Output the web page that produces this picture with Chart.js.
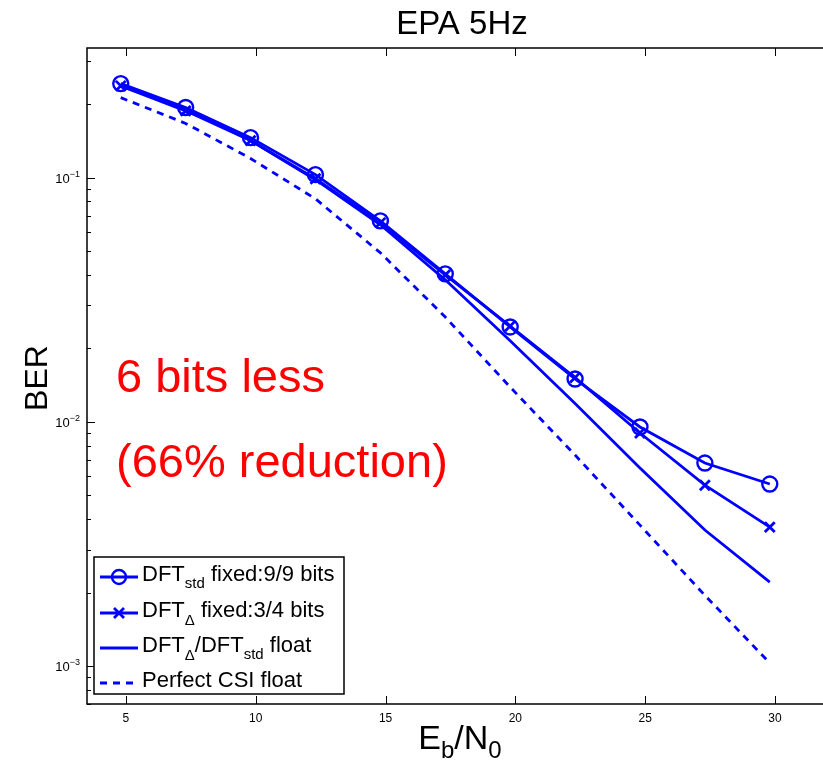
<!DOCTYPE html>
<html>
<head>
<meta charset="utf-8">
<script src="https://cdn.jsdelivr.net/npm/chart.js@4.4.0/dist/chart.umd.min.js"></script>
<style>
  html, body { margin: 0; padding: 0; background: #fff; overflow: hidden; }
  canvas { display: block; }
</style>
</head>
<body>
<canvas id="berChart" width="823" height="761"></canvas>
<script>
// Eb/N0 points (dB)
const ebN0 = [4.8, 7.3, 9.8, 12.3, 14.8, 17.3, 19.8, 22.3, 24.8, 27.3, 29.8];

// BER curves
const berStdFixed   = [0.243, 0.194, 0.146, 0.103, 0.0666, 0.0404, 0.0245, 0.0150, 0.00954, 0.00679, 0.00557];
const berDeltaFixed = [0.238, 0.188, 0.142, 0.0991, 0.0654, 0.0400, 0.0247, 0.0152, 0.00901, 0.00551, 0.00371];
const berFloat      = [0.238, 0.191, 0.142, 0.0982, 0.0642, 0.0382, 0.0215, 0.0119, 0.00648, 0.00361, 0.00221];
const berPerfectCSI = [0.213, 0.167, 0.120, 0.0820, 0.0493, 0.0269, 0.0139, 0.00732, 0.00378, 0.00195, 0.00103];

// axis ticks
const xTicks = [5, 10, 15, 20, 25, 30];
const yDecades = [1e-3, 1e-2, 1e-1];
const yExponents = ['\u22123', '\u22122', '\u22121'];

const BLUE = '#0000ff';
const FONT = '"Liberation Sans", Arial, Helvetica, sans-serif';

function pts(ys) {
    return ys.map((v, i) => ({ x: ebN0[i], y: v }));
}

// draw a run of text pieces: [text, size, dy]
function drawRuns(ctx, runs, x, y) {
    let cx = x;
    runs.forEach(r => {
        ctx.font = r[1] + 'px ' + FONT;
        ctx.fillText(r[0], cx, y + (r[2] || 0));
        cx += ctx.measureText(r[0]).width;
    });
    return cx;
}
function runsWidth(ctx, runs) {
    let w = 0;
    runs.forEach(r => {
        ctx.font = r[1] + 'px ' + FONT;
        w += ctx.measureText(r[0]).width;
    });
    return w;
}

const matlabFrame = {
    id: 'matlabFrame',
    afterDraw(chart) {
        const { ctx, chartArea: a, scales: { x, y } } = chart;
        ctx.save();

        // axes box (right side falls just outside the picture)
        ctx.strokeStyle = '#000';
        ctx.lineWidth = 1.5;
        ctx.beginPath();
        ctx.moveTo(a.right + 5, a.top); ctx.lineTo(a.left, a.top);
        ctx.lineTo(a.left, a.bottom); ctx.lineTo(a.right + 5, a.bottom);
        ctx.stroke();

        // inward ticks
        ctx.lineWidth = 1;
        ctx.beginPath();
        xTicks.forEach(v => {
            const px = Math.round(x.getPixelForValue(v)) + 0.5;
            ctx.moveTo(px, a.bottom); ctx.lineTo(px, a.bottom - 8);
            ctx.moveTo(px, a.top); ctx.lineTo(px, a.top + 8);
        });
        [1e-4, 1e-3, 1e-2, 1e-1].forEach(d => {
            for (let m = 1; m <= 9; m++) {
                const v = m * d;
                if (v < y.min || v > y.max) continue;
                const py = Math.round(y.getPixelForValue(v)) + 0.5;
                const len = m === 1 ? 8 : 4;
                ctx.moveTo(a.left, py); ctx.lineTo(a.left + len, py);
            }
        });
        ctx.stroke();

        // x tick labels
        ctx.fillStyle = '#000';
        ctx.textAlign = 'center';
        ctx.textBaseline = 'alphabetic';
        ctx.font = '12px ' + FONT;
        xTicks.forEach(v => {
            ctx.fillText(String(v), x.getPixelForValue(v), a.bottom + 18);
        });

        // y tick labels 10^n
        ctx.textAlign = 'left';
        yDecades.forEach((d, i) => {
            const py = y.getPixelForValue(d);
            const runs = [['10', 13, 0], [yExponents[i], 9, -6]];
            const w = runsWidth(ctx, runs);
            drawRuns(ctx, runs, a.left - 7 - w, py + 5);
        });

        // title
        ctx.textAlign = 'center';
        ctx.font = '33px ' + FONT;
        ctx.fillText('EPA 5Hz', 462, 34);

        // x label E_b/N_0
        ctx.textAlign = 'left';
        const xl = [['E', 34, 0], ['b', 24, 9], ['/N', 34, 0], ['0', 24, 9]];
        drawRuns(ctx, xl, 460 - runsWidth(ctx, xl) / 2, 749);

        // y label
        ctx.save();
        ctx.translate(47, 378);
        ctx.rotate(-Math.PI / 2);
        ctx.textAlign = 'center';
        ctx.font = '32px ' + FONT;
        ctx.fillText('BER', 0, 0);
        ctx.restore();

        // red annotation
        ctx.fillStyle = '#ff0000';
        ctx.textAlign = 'left';
        ctx.font = '47px ' + FONT;
        ctx.fillText('6 bits less', 116, 392);
        ctx.fillText('(66% reduction)', 116, 477);

        // legend
        const lx = 94, ly = 557, lw = 250, lh = 137;
        ctx.fillStyle = '#fff';
        ctx.fillRect(lx, ly, lw, lh);
        ctx.strokeStyle = '#000';
        ctx.lineWidth = 1.5;
        ctx.strokeRect(lx, ly, lw, lh);

        const rows = [
            { y: 577, marker: 'circle', dash: [], text: [['DFT', 22, 0], ['std', 15, 7], [' fixed:9/9 bits', 22, 0]] },
            { y: 613, marker: 'cross', dash: [], text: [['DFT', 22, 0], ['\u0394', 15, 8], [' fixed:3/4 bits', 22, 0]] },
            { y: 648, marker: null, dash: [], text: [['DFT', 22, 0], ['\u0394', 15, 8], ['/DFT', 22, 0], ['std', 15, 7], [' float', 22, 0]] },
            { y: 683, marker: null, dash: [7, 6], text: [['Perfect CSI float', 22, 0]] }
        ];
        rows.forEach(r => {
            ctx.strokeStyle = BLUE;
            ctx.lineWidth = 2.8;
            ctx.setLineDash(r.dash);
            ctx.beginPath();
            ctx.moveTo(100, r.y); ctx.lineTo(138, r.y);
            ctx.stroke();
            ctx.setLineDash([]);
            if (r.marker === 'circle') {
                ctx.lineWidth = 2.4;
                ctx.beginPath();
                ctx.arc(119, r.y, 7, 0, Math.PI * 2);
                ctx.stroke();
            } else if (r.marker === 'cross') {
                ctx.lineWidth = 2.8;
                ctx.beginPath();
                ctx.moveTo(114, r.y - 5); ctx.lineTo(124, r.y + 5);
                ctx.moveTo(124, r.y - 5); ctx.lineTo(114, r.y + 5);
                ctx.stroke();
            }
            ctx.fillStyle = '#000';
            drawRuns(ctx, r.text, 142, r.y + 4);
        });

        ctx.restore();
    }
};

const ctx = document.getElementById('berChart').getContext('2d');
const berChart = new Chart(ctx, {
    type: 'line',
    data: {
        datasets: [{
            label: 'DFTstd fixed:9/9 bits',
            data: pts(berStdFixed),
            borderColor: BLUE,
            borderWidth: 2.8,
            pointStyle: 'circle',
            pointRadius: 7.5,
            pointBorderWidth: 2.4,
            pointBackgroundColor: 'rgba(0,0,0,0)',
            pointBorderColor: BLUE
        }, {
            label: 'DFTΔ fixed:3/4 bits',
            data: pts(berDeltaFixed),
            borderColor: BLUE,
            borderWidth: 2.8,
            pointStyle: 'crossRot',
            pointRadius: 7,
            pointBorderWidth: 2.8,
            pointBorderColor: BLUE
        }, {
            label: 'DFTΔ/DFTstd float',
            data: pts(berFloat),
            borderColor: BLUE,
            borderWidth: 2.8,
            pointRadius: 0
        }, {
            label: 'Perfect CSI float',
            data: pts(berPerfectCSI),
            borderColor: BLUE,
            borderWidth: 2.8,
            borderDash: [7, 6],
            pointRadius: 0
        }]
    },
    options: {
        responsive: false,
        animation: false,
        layout: { autoPadding: false, padding: { left: 87, top: 48, right: 0, bottom: 57 } },
        plugins: { legend: { display: false }, tooltip: { enabled: false } },
        elements: { line: { tension: 0, fill: false } },
        scales: {
            x: { type: 'linear', min: 3.5, max: 31.85, display: false },
            y: { type: 'logarithmic', min: 7e-4, max: 0.34, display: false }
        }
    },
    plugins: [matlabFrame]
});
</script>
</body>
</html>
